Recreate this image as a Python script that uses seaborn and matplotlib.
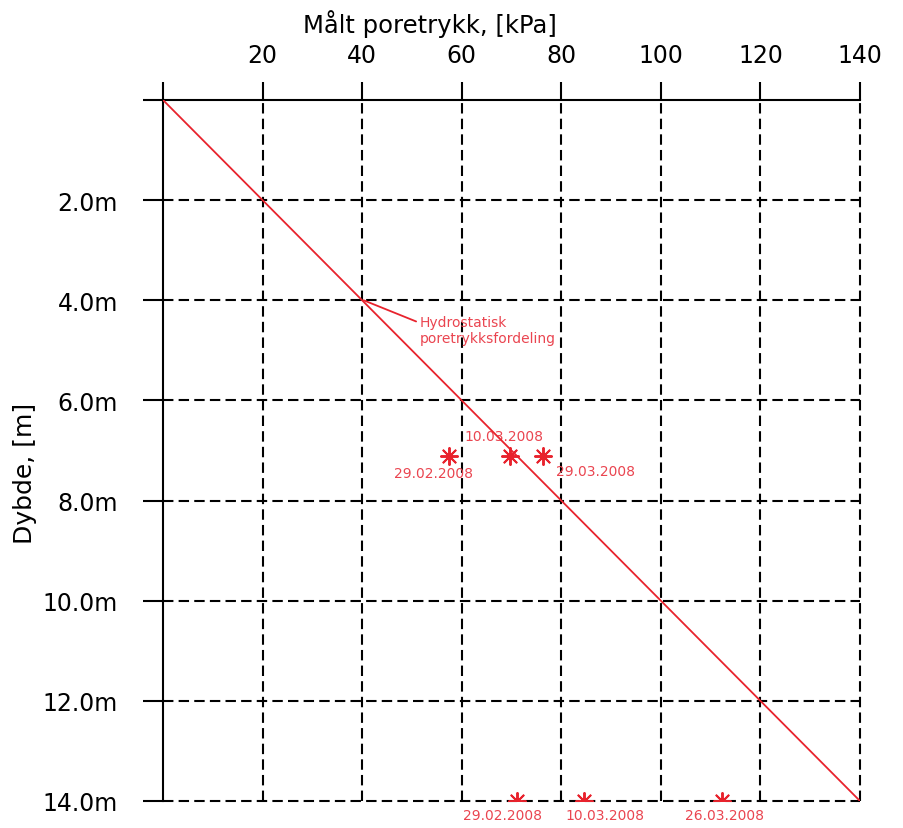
import matplotlib
matplotlib.use('Agg')
import matplotlib.pyplot as plt
import seaborn as sns
import pandas as pd

sns.set_style("white")
plt.rcParams['font.family'] = ['DejaVu Sans']

# hydrostatic line
line_pressure = [0, 140]
line_depth = [0, 14]

# measured pore pressures
meas_pressure = [57.4, 69.7, 76.3, 71.1, 84.6, 112.3]
meas_depth = [7.1, 7.1, 7.1, 14.0, 14.0, 14.0]
meas_date = ['29.02.2008', '10.03.2008', '29.03.2008',
             '29.02.2008', '10.03.2008', '26.03.2008']

x_ticks = [0, 20, 40, 60, 80, 100, 120, 140]
x_ticklabels = ['', '20', '40', '60', '80', '100', '120', '140']
y_ticks = [0, 2, 4, 6, 8, 10, 12, 14]
y_ticklabels = ['', '2.0m', '4.0m', '6.0m', '8.0m', '10.0m', '12.0m', '14.0m']

red = '#e8232d'
txt_red = '#ea4550'

df_line = pd.DataFrame({'p': line_pressure, 'z': line_depth})
df_meas = pd.DataFrame({'p': meas_pressure, 'z': meas_depth, 'date': meas_date})

fig = plt.figure(figsize=(9.04, 8.29), dpi=100)
ax = fig.add_axes([163/904, 27/829, 697/904, 701/829])

sns.lineplot(data=df_line, x='p', y='z', color=red, lw=1.3, ax=ax, zorder=4)
sns.scatterplot(data=df_meas, x='p', y='z', marker=(8, 2, 0), s=150,
                color=red, linewidth=1.4, edgecolor=red, ax=ax, zorder=5)

# label offsets (pixels) for the dates
offsets = [(-15, -17), (-6, 20), (53, -15), (-14, -14), (21, -14), (2, -14)]
for (p, z, d), off in zip(zip(meas_pressure, meas_depth, meas_date), offsets):
    ax.annotate(d, (p, z), xytext=off, textcoords='offset pixels',
                ha='center', va='center', color=txt_red, fontsize=10,
                annotation_clip=False)

ax.annotate('Hydrostatisk\nporetrykksfordeling', xy=(40.3, 4.0), xytext=(51.5, 4.6),
            textcoords='data', ha='left', va='center', color=txt_red, fontsize=10,
            linespacing=1.2,
            arrowprops=dict(arrowstyle='-', color=red, lw=1.3,
                            shrinkA=0, shrinkB=0, relpos=(0, 0.75)))

ax.set_xlim(0, 140)
ax.set_ylim(14, 0)
ax.xaxis.tick_top()
ax.xaxis.set_label_position('top')
ax.set_xticks(x_ticks)
ax.set_xticklabels(x_ticklabels)
ax.set_yticks(y_ticks)
ax.set_yticklabels(y_ticklabels)

ax.tick_params(axis='x', which='both', top=True, bottom=False, direction='out',
               length=13, width=1.5, pad=11, labelsize=17, color='black',
               labelcolor='black')
ax.tick_params(axis='y', which='both', left=True, direction='out',
               length=14.5, width=1.5, pad=18, labelsize=17, color='black',
               labelcolor='black')

ax.grid(True, color='black', linestyle=(0, (5, 2.5)), linewidth=1.5)
for gl in ax.get_xgridlines() + ax.get_ygridlines():
    gl.set_clip_on(False)
ax.get_xgridlines()[0].set_visible(False)
ax.get_ygridlines()[0].set_visible(False)

for s in ['bottom', 'right']:
    ax.spines[s].set_visible(False)
for s in ['top', 'left']:
    ax.spines[s].set_linewidth(1.5)
    ax.spines[s].set_color('black')

ax.set_xlabel('Målt poretrykk, [kPa]', fontsize=17.5, color='black')
ax.set_ylabel('Dybde, [m]', fontsize=18, color='black')
ax.xaxis.set_label_coords(0.383, 1.11)
ax.yaxis.set_label_coords(-0.198, 0.468)
ax.xaxis.label.set_verticalalignment('center')
ax.yaxis.label.set_verticalalignment('center')

fig.savefig('out.png', dpi=100)
